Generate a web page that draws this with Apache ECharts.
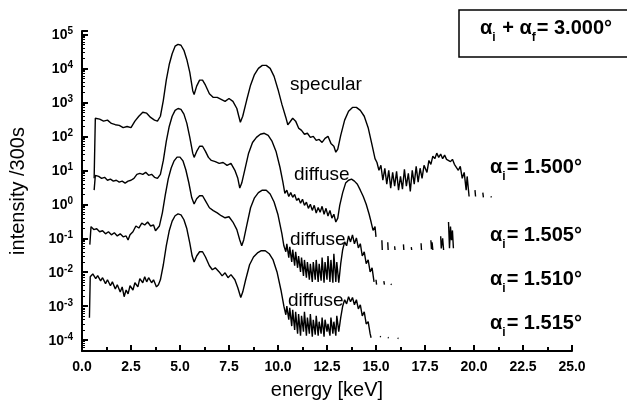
<!DOCTYPE html>
<html>
<head>
<meta charset="utf-8">
<script src="https://cdn.jsdelivr.net/npm/echarts@6/dist/echarts.min.js"></script>
<style>html,body{margin:0;padding:0;background:#fff}#c{width:627px;height:405px}</style>
</head>
<body>
<div id="c"></div>
<script>
// ---- data: [energy keV, intensity /300s] ----
const xTicks = [0, 2.5, 5, 7.5, 10, 12.5, 15, 17.5, 20, 22.5, 25];
const yDecades = [-4, -3, -2, -1, 0, 1, 2, 3, 4, 5];

const specular = [[0.62,5.8],[0.68,340],[0.9,320],[1.1,280],[1.3,300],[1.5,240],[1.7,220],[1.9,210],[2.1,180],[2.3,195],[2.5,180],[2.7,280],[2.9,390],[3.1,510],[3.3,480],[3.5,360],[3.7,300],[3.85,280],[4.0,390],[4.15,1150],[4.3,4500],[4.45,13000],[4.6,27000],[4.75,45000],[4.9,51000],[5.05,48000],[5.2,34000],[5.35,18000],[5.5,7600],[5.65,2200],[5.72,1700],[5.85,3000],[6.0,4500],[6.15,4500],[6.3,3200],[6.5,1800],[6.7,1400],[6.9,1400],[7.1,1230],[7.3,1070],[7.5,1300],[7.7,1070],[7.9,660],[8.0,390],[8.08,260],[8.2,390],[8.4,1150],[8.6,3200],[8.8,6600],[9.0,10000],[9.2,12300],[9.4,12300],[9.6,10000],[9.8,5800],[10.0,2400],[10.2,870],[10.4,360],[10.5,220],[10.6,260],[10.75,340],[10.9,280],[11.05,175],[11.2,150],[11.35,115],[11.5,123],[11.65,93],[11.8,100],[11.95,76],[12.1,81],[12.25,66],[12.4,87],[12.55,100],[12.7,62],[12.85,51],[12.95,34],[13.05,42],[13.2,107],[13.4,300],[13.6,550],[13.8,710],[14.0,710],[14.2,580],[14.4,390],[14.6,180],[14.8,55],[14.95,22],[15.05,17],[15.15,10],[15.25,14],[15.35,5.1],[15.45,11.5],[15.55,3.9],[15.65,10],[15.75,3.0],[15.85,8.7],[15.95,3.4],[16.05,9.3],[16.15,2.6],[16.25,6.6],[16.35,2.8],[16.45,10.7],[16.55,3.4],[16.65,8.1],[16.75,2.4],[16.85,10],[16.95,3.9],[17.05,13],[17.15,4.5],[17.25,11.5],[17.35,5.8],[17.45,14],[17.6,8.7],[17.7,19.5],[17.8,15],[17.9,26],[18.0,22],[18.1,32],[18.2,24],[18.3,30],[18.4,22],[18.5,28],[18.6,21],[18.7,24],[18.8,18],[18.9,21],[19.0,15],[19.1,17],[19.2,10],[19.3,13],[19.4,5.8],[19.5,8.7],[19.6,2.6],[19.65,6.6],[19.75,1.7],[19.8,null],[20.05,2.6],[20.08,1.7],[20.2,null],[20.45,2.2],[20.48,1.6],[20.6,null],[20.85,1.7],[20.9,1.6]];

const diffuse1500 = [[0.62,2.6],[0.68,7.1],[0.85,6.6],[1.0,5.8],[1.15,6.2],[1.3,5.1],[1.45,5.5],[1.6,4.8],[1.75,5.1],[1.9,4.5],[2.05,4.8],[2.2,4.2],[2.35,4.8],[2.5,5.1],[2.65,5.8],[2.8,7.6],[2.95,8.1],[3.1,7.6],[3.25,8.7],[3.4,7.1],[3.55,7.6],[3.7,6.2],[3.85,5.8],[4.0,7.6],[4.15,19.5],[4.3,71],[4.45,195],[4.6,390],[4.75,580],[4.9,660],[5.05,620],[5.2,450],[5.35,240],[5.5,93],[5.65,32],[5.72,24],[5.85,36],[6.0,51],[6.15,51],[6.3,36],[6.45,24],[6.6,19.5],[6.8,18],[7.0,16],[7.2,17],[7.4,14],[7.6,16],[7.8,10],[7.95,5.8],[8.05,3.0],[8.15,4.2],[8.3,10],[8.5,32],[8.7,66],[8.9,93],[9.1,115],[9.3,123],[9.5,107],[9.7,71],[9.9,36],[10.1,12.3],[10.25,4.5],[10.35,2.1],[10.45,2.6],[10.55,1.7],[10.65,2.2],[10.75,1.6],[10.85,1.95],[10.95,1.3],[11.05,1.5],[11.15,1.07],[11.25,1.4],[11.35,0.93],[11.45,1.15],[11.55,0.76],[11.65,1.0],[11.75,0.66],[11.85,0.93],[11.95,0.55],[12.05,0.81],[12.15,0.58],[12.25,0.87],[12.35,0.51],[12.45,0.76],[12.55,0.45],[12.65,0.66],[12.75,0.39],[12.85,0.51],[12.95,0.30],[13.05,0.39],[13.15,0.93],[13.3,2.2],[13.45,4.2],[13.6,5.1],[13.75,5.5],[13.9,4.8],[14.05,3.9],[14.2,2.6],[14.35,1.7],[14.5,1.0],[14.65,0.51],[14.75,0.30],[14.85,0.17],[14.95,0.22],[15.0,0.11],[15.1,null],[15.3,0.087],[15.32,0.045],[15.4,null],[15.6,0.076],[15.62,0.045],[15.7,null],[15.95,0.058],[15.97,0.045],[16.1,null],[16.4,0.066],[16.42,0.045],[16.5,null],[16.8,0.055],[16.82,0.045],[16.9,null],[17.3,0.071],[17.32,0.045],[17.5,null],[17.8,0.087],[17.83,0.048],[17.86,0.076],[17.9,0.045],[18.0,null],[18.3,0.115],[18.33,0.05],[18.4,0.10],[18.45,0.045],[18.55,null],[18.7,0.30],[18.75,0.051],[18.8,0.22],[18.85,0.087],[18.9,0.17],[18.95,0.051]];

const diffuse1505 = [[0.4,0.065],[0.46,0.22],[0.6,0.18],[0.75,0.19],[0.9,0.155],[1.05,0.166],[1.2,0.135],[1.35,0.155],[1.5,0.126],[1.65,0.145],[1.8,0.117],[1.95,0.135],[2.1,0.11],[2.25,0.117],[2.35,0.089],[2.45,0.126],[2.6,0.155],[2.75,0.23],[2.9,0.20],[3.05,0.28],[3.2,0.245],[3.35,0.30],[3.5,0.23],[3.65,0.245],[3.75,0.166],[3.85,0.19],[3.95,0.23],[4.1,0.56],[4.25,1.9],[4.4,5.6],[4.55,11.7],[4.7,19],[4.85,24.5],[5.0,24.5],[5.15,19],[5.3,10.2],[5.45,4.3],[5.6,1.55],[5.72,1.02],[5.85,1.45],[6.0,1.78],[6.15,1.78],[6.3,1.26],[6.5,0.79],[6.7,0.65],[6.9,0.56],[7.1,0.46],[7.3,0.40],[7.5,0.43],[7.7,0.30],[7.9,0.18],[8.05,0.089],[8.15,0.060],[8.25,0.089],[8.4,0.23],[8.6,0.79],[8.8,1.55],[9.0,2.2],[9.2,2.6],[9.4,2.6],[9.6,2.0],[9.8,1.17],[10.0,0.49],[10.2,0.135],[10.3,0.060],[10.4,0.040],[10.45,0.069],[10.55,0.027],[10.6,0.056],[10.7,0.020],[10.75,0.046],[10.85,0.0155],[10.9,0.040],[11.0,0.0135],[11.05,0.030],[11.15,0.0102],[11.2,0.027],[11.3,0.0078],[11.35,0.023],[11.45,0.0069],[11.5,0.020],[11.6,0.006],[11.65,0.0178],[11.75,0.0052],[11.8,0.020],[11.9,0.006],[11.95,0.023],[12.05,0.0052],[12.1,0.0178],[12.2,0.0056],[12.25,0.027],[12.35,0.0049],[12.4,0.020],[12.5,0.006],[12.55,0.030],[12.65,0.0052],[12.7,0.023],[12.8,0.0049],[12.85,0.035],[12.95,0.0052],[13.0,0.020],[13.1,0.0049],[13.2,0.0178],[13.3,0.046],[13.4,0.078],[13.5,0.060],[13.6,0.117],[13.7,0.078],[13.8,0.126],[13.9,0.069],[14.0,0.102],[14.1,0.052],[14.2,0.069],[14.3,0.030],[14.4,0.040],[14.5,0.0178],[14.6,0.023],[14.7,0.0102],[14.8,0.0135],[14.9,0.0052],[14.95,null],[15.0,0.006],[15.03,0.0043],[15.2,null],[15.4,0.0055],[15.43,0.0043],[15.6,null],[15.75,0.0045],[15.8,0.0043]];

const diffuse1510 = [[0.38,0.00046],[0.42,0.0074],[0.55,0.0089],[0.7,0.0065],[0.8,0.0079],[0.95,0.0056],[1.05,0.0069],[1.2,0.0046],[1.3,0.006],[1.45,0.004],[1.55,0.0052],[1.7,0.0032],[1.8,0.0043],[1.95,0.0026],[2.05,0.0037],[2.15,0.0019],[2.25,0.003],[2.35,0.0023],[2.45,0.004],[2.6,0.003],[2.7,0.0049],[2.85,0.0037],[2.95,0.0065],[3.1,0.0049],[3.2,0.0074],[3.3,0.0052],[3.4,0.0069],[3.55,0.0049],[3.65,0.006],[3.8,0.0037],[3.9,0.0043],[4.0,0.006],[4.15,0.0166],[4.3,0.060],[4.45,0.166],[4.6,0.32],[4.75,0.46],[4.9,0.52],[5.05,0.49],[5.2,0.35],[5.35,0.19],[5.5,0.072],[5.62,0.030],[5.72,0.020],[5.85,0.030],[6.0,0.040],[6.15,0.040],[6.3,0.028],[6.5,0.0155],[6.65,0.0118],[6.8,0.0135],[7.0,0.0102],[7.15,0.0078],[7.3,0.0096],[7.45,0.0069],[7.6,0.0085],[7.8,0.006],[7.95,0.0035],[8.1,0.0018],[8.2,0.0026],[8.35,0.006],[8.55,0.0166],[8.75,0.028],[8.95,0.037],[9.15,0.043],[9.35,0.043],[9.55,0.035],[9.75,0.023],[9.95,0.0102],[10.15,0.003],[10.3,0.001],[10.4,0.00056],[10.45,0.001],[10.55,0.0004],[10.6,0.00089],[10.7,0.00026],[10.75,0.00078],[10.85,0.0002],[10.9,0.00068],[11.0,0.000155],[11.05,0.00059],[11.15,0.000135],[11.2,0.00052],[11.3,0.000178],[11.35,0.00068],[11.45,0.000135],[11.5,0.00046],[11.6,0.000155],[11.65,0.00059],[11.75,0.000126],[11.8,0.0004],[11.9,0.000145],[11.95,0.00052],[12.05,0.000135],[12.1,0.00035],[12.2,0.000155],[12.25,0.00046],[12.35,0.000126],[12.4,0.0004],[12.5,0.000178],[12.55,0.0003],[12.65,0.000135],[12.7,0.00046],[12.8,0.000155],[12.85,0.00035],[12.95,0.000135],[13.0,0.00052],[13.1,0.000178],[13.2,0.00046],[13.3,0.001],[13.4,0.00155],[13.5,0.00117],[13.6,0.0019],[13.7,0.00135],[13.8,0.0018],[13.9,0.0011],[14.0,0.00155],[14.1,0.00083],[14.2,0.0011],[14.3,0.00052],[14.4,0.00068],[14.5,0.0003],[14.6,0.00035],[14.7,0.000155],[14.75,0.000118],[14.9,null],[15.2,0.00013],[15.25,0.000125],[15.4,null],[15.6,0.00012],[15.65,0.000118],[15.8,null],[16.1,0.000115],[16.15,0.000112]];

const curveLabels = ['specular', 'diffuse', 'diffuse', 'diffuse'];
const angleLabels = ['1.500°', '1.505°', '1.510°', '1.515°'];
const sumLabel = '3.000°';

const FONT = '"Liberation Sans", Arial, Helvetica, sans-serif';

function mkSeries(name, data) {
  return {
    name: name, type: 'line', data: data, showSymbol: false, symbol: 'none',
    connectNulls: false, clip: true, animation: false, silent: true,
    lineStyle: { color: '#000', width: 1.4 }
  };
}

const alphaRich = {
  a: { fontSize: 20, fontWeight: 'bold', fontFamily: FONT, color: '#000', verticalAlign: 'bottom', padding: [0, 0, 6, 0] },
  s: { fontSize: 12, fontWeight: 'bold', fontFamily: FONT, color: '#000', verticalAlign: 'bottom', padding: [0, 1, 0, 0] }
};

function alphaText(x, y, value) {
  return {
    type: 'text', left: x, top: y, silent: true,
    style: { text: '{a|α}{s|i}{a|= ' + value + '}', rich: alphaRich, fill: '#000' }
  };
}
function plainText(x, y, t) {
  return {
    type: 'text', left: x, top: y, silent: true,
    style: { text: t, font: '19px ' + FONT, fill: '#000' }
  };
}

const chart = echarts.init(document.getElementById('c'), null, { renderer: 'canvas' });
chart.setOption({
  backgroundColor: '#fff',
  animation: false,
  grid: { left: 79, right: 55, top: 31, bottom: 54, containLabel: false },
  xAxis: {
    type: 'value', min: xTicks[0], max: xTicks[xTicks.length - 1], interval: 2.5,
    name: 'energy [keV]', nameLocation: 'middle', nameGap: 29,
    nameTextStyle: { fontSize: 20, fontFamily: FONT, color: '#000' },
    axisLine: { lineStyle: { color: '#000', width: 2 } },
    axisTick: { inside: true, length: 6, lineStyle: { color: '#000', width: 2 } },
    minorTick: { show: true, splitNumber: 2, length: 4, lineStyle: { color: '#000', width: 2 } },
    axisLabel: { fontSize: 14, fontWeight: 'bold', fontFamily: FONT, color: '#000', margin: 9,
      formatter: v => v.toFixed(1) },
    splitLine: { show: false }
  },
  yAxis: {
    type: 'log', logBase: 10, min: 4.8e-5, max: 1.26e5,
    name: 'intensity /300s', nameLocation: 'middle', nameGap: 54, nameRotate: 90,
    nameTextStyle: { fontSize: 20, fontFamily: FONT, color: '#000' },
    axisLine: { lineStyle: { color: '#000', width: 2 } },
    axisTick: { inside: true, length: 6, lineStyle: { color: '#000', width: 2 } },
    minorTick: { show: true, splitNumber: 9, length: 3, lineStyle: { color: '#000', width: 1 } },
    axisLabel: {
      margin: 9, color: '#000',
      formatter: function (v) {
        const l = Math.log10(v);
        const e = Math.round(l);
        if (Math.abs(l - e) > 0.02 || yDecades.indexOf(e) < 0) return '';
        return '{b|10}{s|' + e + '}';
      },
      rich: {
        b: { fontSize: 14, fontWeight: 'bold', fontFamily: FONT, color: '#000', verticalAlign: 'bottom' },
        s: { fontSize: 10, fontWeight: 'bold', fontFamily: FONT, color: '#000', verticalAlign: 'bottom', padding: [0, 0, 6, 0] }
      }
    },
    splitLine: { show: false }
  },
  series: [
    mkSeries('specular', specular),
    mkSeries('diffuse 1.500', diffuse1500),
    mkSeries('diffuse 1.505', diffuse1505),
    mkSeries('diffuse 1.510', diffuse1510)
  ],
  graphic: [
    { type: 'rect', shape: { x: 459, y: 10, width: 200, height: 47 }, silent: true,
      style: { fill: 'none', stroke: '#000', lineWidth: 1.5 } },
    { type: 'text', left: 480, top: 18, silent: true,
      style: { text: '{a|α}{s|i}{a| + α}{s|f}{a|= ' + sumLabel + '}', rich: alphaRich, fill: '#000' } },
    plainText(290, 75, curveLabels[0]),
    plainText(294, 165, curveLabels[1]),
    plainText(290, 230, curveLabels[2]),
    plainText(288, 291, curveLabels[3]),
    alphaText(490, 157, angleLabels[0]),
    alphaText(490, 225, angleLabels[1]),
    alphaText(490, 269, angleLabels[2]),
    alphaText(490, 313, angleLabels[3])
  ]
});
</script>
</body>
</html>
